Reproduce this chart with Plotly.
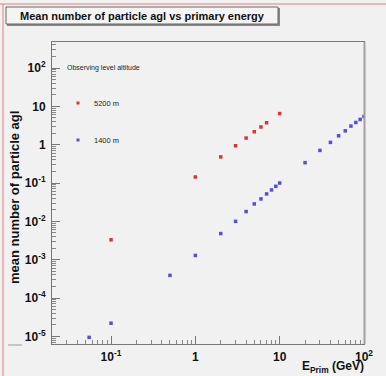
import plotly.graph_objects as go

# ---- data ----
energy_5200 = [0.1, 1, 2, 3, 4, 5, 6, 7, 10]
mean_5200 = [0.0033, 0.144, 0.48, 0.94, 1.49, 2.18, 2.9, 3.74, 6.5]

energy_1400 = [0.055, 0.1, 0.5, 1, 2, 3, 4, 5, 6, 7, 8, 9, 10,
               20, 30, 40, 50, 60, 70, 80, 90, 100]
mean_1400 = [9.4e-6, 2.2e-5, 3.9e-4, 1.29e-3, 4.8e-3, 0.010, 0.018, 0.0285,
             0.0385, 0.052, 0.066, 0.082, 0.10,
             0.34, 0.71, 1.15, 1.71, 2.3, 3.07, 3.8, 4.56, 5.46]

x_tickvals = [0.1, 1, 10, 100]
x_ticktext = ["<b>10<sup>-1</sup></b>", "<b>1</b>", "<b>10</b>", "<b>10<sup>2</sup></b>"]
y_tickvals = [1e-5, 1e-4, 1e-3, 1e-2, 1e-1, 1, 10, 100]
y_ticktext = ["<b>10<sup>-5</sup></b>", "<b>10<sup>-4</sup></b>", "<b>10<sup>-3</sup></b>",
              "<b>10<sup>-2</sup></b>", "<b>10<sup>-1</sup></b>", "<b>1</b>", "<b>10</b>",
              "<b>10<sup>2</sup></b>"]

RED = "#e03232"
BLUE = "#5050d8"
BG = "#f1f1f1"

W, H = 386, 376
L, R, T, B = 52, 22, 42, 32
PW, PH = W - L - R, H - T - B


def px(x):
    return (x - L) / PW


def py(y):
    return (H - B - y) / PH


fig = go.Figure()
fig.add_trace(go.Scatter(x=energy_5200, y=mean_5200, mode="markers",
                         marker=dict(symbol="square", size=3.5, color=RED),
                         name="5200 m", showlegend=False))
fig.add_trace(go.Scatter(x=energy_1400, y=mean_1400, mode="markers",
                         marker=dict(symbol="square", size=3.5, color=BLUE),
                         name="1400 m", showlegend=False))

axis_common = dict(
    type="log", showgrid=False, zeroline=False, showline=True, linecolor="#777777",
    linewidth=1, mirror=True, ticks="inside", ticklen=8, tickcolor="#777777",
    tickfont=dict(family="Liberation Sans, Arial", size=12, color="#111111"),
    minor=dict(ticks="inside", ticklen=4, tickcolor="#888888", dtick="D1", showgrid=False),
)

fig.update_xaxes(range=[-1.70, 2.0], tickvals=x_tickvals, ticktext=x_ticktext,
                 ticklabelstandoff=2, **axis_common)
fig.update_yaxes(range=[-5.2, 2.68], tickvals=y_tickvals, ticktext=y_ticktext,
                 ticklabelstandoff=3, **axis_common)

shapes = []
# canvas red frame (top and left)
shapes.append(dict(type="line", xref="paper", yref="paper", x0=px(0), x1=px(W), y0=py(4), y1=py(4),
                   line=dict(color="#e87c7c", width=1)))
shapes.append(dict(type="line", xref="paper", yref="paper", x0=px(3), x1=px(3), y0=py(4), y1=py(H),
                   line=dict(color="#e87c7c", width=1)))
# frame right border shadow
shapes.append(dict(type="line", xref="paper", yref="paper", x0=px(364.5), x1=px(364.5), y0=py(42), y1=py(344),
                   line=dict(color="#a0a0a0", width=2)))
# stray line left of axis
shapes.append(dict(type="line", xref="paper", yref="paper", x0=px(8), x1=px(22), y0=py(345), y1=py(345),
                   line=dict(color="#999999", width=1)))
# title box shadow and box
shapes.append(dict(type="rect", xref="paper", yref="paper", x0=px(7), x1=px(280), y0=py(26), y1=py(8),
                   line=dict(width=0), fillcolor="#888888"))
shapes.append(dict(type="rect", xref="paper", yref="paper", x0=px(6), x1=px(278), y0=py(24), y1=py(7),
                   line=dict(color="#666666", width=1), fillcolor="#f4f4f4"))
# legend markers
for cy, col in [(103, RED), (140, BLUE)]:
    shapes.append(dict(type="rect", xref="paper", yref="paper", x0=px(76.5), x1=px(79.5),
                       y0=py(cy + 1.5), y1=py(cy - 1.5), line=dict(width=0), fillcolor=col))

annotations = [
    dict(text="<b>Mean number of particle agl vs primary energy</b>", xref="paper", yref="paper",
         x=px(142), y=py(15.5), xanchor="center", yanchor="middle", showarrow=False,
         font=dict(family="Liberation Sans, Arial", size=11, color="#111111")),
    dict(text="<b>mean number of particle agl</b>", xref="paper", yref="paper",
         x=px(14), y=py(198), xanchor="center", yanchor="middle", textangle=-90, showarrow=False,
         font=dict(family="Liberation Sans, Arial", size=13, color="#111111")),
    dict(text="<b>E<sub>Prim</sub> (GeV)</b>", xref="paper", yref="paper",
         x=px(366), y=py(367), xanchor="right", yanchor="middle", showarrow=False,
         font=dict(family="Liberation Sans, Arial", size=12, color="#111111")),
    dict(text="Observing level altitude", xref="paper", yref="paper",
         x=px(65), y=py(68), xanchor="left", yanchor="middle", showarrow=False,
         font=dict(family="Liberation Sans, Arial", size=7, color="#222222")),
    dict(text="5200 m", xref="paper", yref="paper",
         x=px(92), y=py(103), xanchor="left", yanchor="middle", showarrow=False,
         font=dict(family="Liberation Sans, Arial", size=7.5, color="#222222")),
    dict(text="1400 m", xref="paper", yref="paper",
         x=px(92), y=py(140), xanchor="left", yanchor="middle", showarrow=False,
         font=dict(family="Liberation Sans, Arial", size=7.5, color="#222222")),
]

fig.update_layout(
    width=W, height=H, margin=dict(l=L, r=R, t=T, b=B, autoexpand=False),
    paper_bgcolor=BG, plot_bgcolor=BG, showlegend=False,
    shapes=shapes, annotations=annotations,
)

fig.write_html("out.html", config={"displayModeBar": False})
